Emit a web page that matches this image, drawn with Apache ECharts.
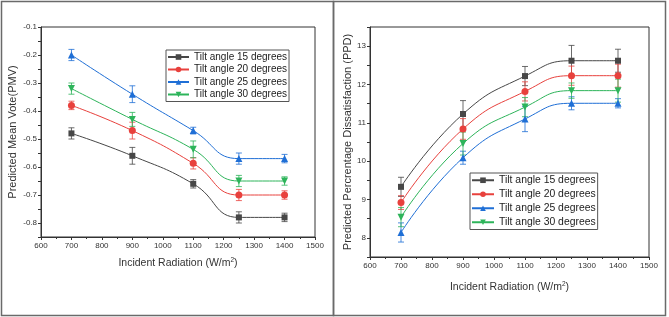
<!DOCTYPE html>
<html>
<head>
<meta charset="utf-8">
<script src="https://cdn.jsdelivr.net/npm/echarts@6/dist/echarts.min.js"></script>
<style>
    html, body {margin: 0; padding: 0; background: #fff;}
    #main {width: 669px; height: 317px;}
</style>
</head>
<body>
<div id="main"></div>
<script>
// radiation levels (x)
var radiation = [700, 900, 1100, 1250, 1400];
var seriesNames = ['Tilt angle 15 degrees', 'Tilt angle 20 degrees', 'Tilt angle 25 degrees', 'Tilt angle 30 degrees'];

// PMV, left chart
var pmv15 = [-0.48, -0.56, -0.66, -0.78, -0.78];
var pmv20 = [-0.38, -0.47, -0.587, -0.70, -0.70];
var pmv25 = [-0.20, -0.34, -0.47, -0.57, -0.57];
var pmv30 = [-0.32, -0.43, -0.537, -0.65, -0.65];
var pmvErr15 = [0.02, 0.03, 0.015, 0.02, 0.015];
var pmvErr20 = [0.015, 0.03, 0.02, 0.02, 0.015];
var pmvErr25 = [0.02, 0.03, 0.012, 0.02, 0.015];
var pmvErr30 = [0.02, 0.025, 0.03, 0.02, 0.015];

// PPD, right chart
var ppd15 = [9.33, 11.23, 12.22, 12.62, 12.62];
var ppd20 = [8.92, 10.84, 11.82, 12.23, 12.23];
var ppd25 = [8.14, 10.09, 11.10, 11.51, 11.51];
var ppd30 = [8.54, 10.46, 11.41, 11.84, 11.84];
var ppdErr15 = [0.25, 0.35, 0.25, 0.4, 0.3];
var ppdErr20 = [0.18, 0.27, 0.25, 0.25, 0.3];
var ppdErr25 = [0.25, 0.17, 0.33, 0.17, 0.12];
var ppdErr30 = [0.25, 0.3, 0.25, 0.2, 0.3];

var colors = ['#474747', '#e8413d', '#1f6fd6', '#2db45a'];
var symbols = ['rect', 'circle', 'triangle', 'path://M0,0 L10,0 L5,9 Z'];
var symbolSizes = [6, 7, 7, 7];
var fontName = '"Liberation Sans", Arial, sans-serif';

function pairs(ys) {
    var out = [];
    for (var i = 0; i < radiation.length; i++) out.push([radiation[i], ys[i]]);
    return out;
}
function errData(ys, es) {
    var out = [];
    for (var i = 0; i < radiation.length; i++) out.push([radiation[i], ys[i] - es[i], ys[i] + es[i]]);
    return out;
}
function errRender(color) {
    return function (params, api) {
        var p1 = api.coord([api.value(0), api.value(1)]);
        var p2 = api.coord([api.value(0), api.value(2)]);
        var w = 3;
        var st = {stroke: color, lineWidth: 1, opacity: 0.8};
        return {
            type: 'group',
            children: [
                {type: 'line', shape: {x1: p1[0], y1: p1[1], x2: p2[0], y2: p2[1]}, style: st},
                {type: 'line', shape: {x1: p1[0] - w, y1: p1[1], x2: p1[0] + w, y2: p1[1]}, style: st},
                {type: 'line', shape: {x1: p2[0] - w, y1: p2[1], x2: p2[0] + w, y2: p2[1]}, style: st}
            ]
        };
    };
}

var pmvSets = [pmv15, pmv20, pmv25, pmv30];
var pmvErrs = [pmvErr15, pmvErr20, pmvErr25, pmvErr30];
var ppdSets = [ppd15, ppd20, ppd25, ppd30];
var ppdErrs = [ppdErr15, ppdErr20, ppdErr25, ppdErr30];

var series = [];
function addSeries(sets, errs, idx) {
    for (var k = 0; k < 4; k++) {
        series.push({
            type: 'custom',
            xAxisIndex: idx, yAxisIndex: idx,
            renderItem: errRender(colors[k]),
            data: errData(sets[k], errs[k]),
            silent: true, z: 1
        });
    }
    for (var k = 0; k < 4; k++) {
        series.push({
            name: seriesNames[k],
            type: 'line',
            xAxisIndex: idx, yAxisIndex: idx,
            smooth: true,
            symbol: symbols[k],
            symbolSize: symbolSizes[k],
            showAllSymbol: true,
            lineStyle: {width: 1, color: colors[k]},
            itemStyle: {color: colors[k]},
            data: pairs(sets[k]),
            z: 3
        });
    }
}
addSeries(pmvSets, pmvErrs, 0);
addSeries(ppdSets, ppdErrs, 1);

var tickStyle = {fontSize: 8, color: '#333', fontFamily: fontName};
function nameStyle(size) {
    return {
        fontSize: size, color: '#333', fontFamily: fontName,
        rich: {sup: {fontSize: 6.5, verticalAlign: 'top', padding: [0, 0, 6, 0], color: '#333', fontFamily: fontName}}
    };
}

function xAxis(idx, gap) {
    return {
        type: 'value', gridIndex: idx,
        min: 600, max: 1500, interval: 100,
        name: 'Incident Radiation (W/m{sup|2})',
        nameLocation: 'middle', nameGap: gap,
        nameTextStyle: nameStyle(10.5),
        axisLine: {lineStyle: {color: '#333', width: 1}},
        axisTick: {length: 3, lineStyle: {color: '#333'}},
        minorTick: {show: true, splitNumber: 2, length: 2, lineStyle: {color: '#333'}},
        axisLabel: Object.assign({
            margin: 5,
            formatter: function (v) { return String(v); }
        }, tickStyle),
        splitLine: {show: false}
    };
}

var option = {
    animation: false,
    backgroundColor: '#fff',
    textStyle: {fontFamily: fontName},
    graphic: [
        {type: 'rect', shape: {x: 1.5, y: 1.5, width: 332, height: 314}, style: {fill: 'none', stroke: '#6a6a6a', lineWidth: 1.5}},
        {type: 'rect', shape: {x: 333.5, y: 1.5, width: 332, height: 314}, style: {fill: 'none', stroke: '#6a6a6a', lineWidth: 1.5}}
    ],
    grid: [
        {left: 41, top: 27, width: 274, height: 210, show: true, borderColor: '#333', borderWidth: 1, backgroundColor: 'transparent'},
        {left: 370, top: 27, width: 279, height: 230, show: true, borderColor: '#333', borderWidth: 1, backgroundColor: 'transparent'}
    ],
    legend: [
        {
            data: seriesNames.map(function (n) { return {name: n}; }),
            orient: 'vertical', left: 166, top: 50,
            itemWidth: 21, itemHeight: 7, itemGap: 0.5,
            padding: [1, 2, 1, 1],
            borderColor: '#555', borderWidth: 1,
            textStyle: {fontSize: 10, color: '#222', fontFamily: fontName, lineHeight: 12},
            selectedMode: false
        },
        {
            data: seriesNames.map(function (n) { return {name: n}; }),
            orient: 'vertical', left: 470, top: 173,
            itemWidth: 22, itemHeight: 7, itemGap: 1.5,
            padding: [1, 2, 1, 1],
            borderColor: '#555', borderWidth: 1,
            textStyle: {fontSize: 10.4, color: '#222', fontFamily: fontName, lineHeight: 12.5},
            selectedMode: false
        }
    ],
    xAxis: [xAxis(0, 20), xAxis(1, 24)],
    yAxis: [
        {
            type: 'value', gridIndex: 0,
            min: -0.85, max: -0.1, interval: 0.05,
            name: 'Predicted Mean Vote(PMV)',
            nameLocation: 'middle', nameGap: 23,
            nameTextStyle: nameStyle(11),
            axisLine: {show: true, lineStyle: {color: '#333', width: 1}},
            axisTick: {show: true, length: 3, lineStyle: {color: '#333'}},
            axisLabel: Object.assign({
                margin: 4,
                formatter: function (v) {
                    var t = v * 10;
                    return Math.abs(t - Math.round(t)) < 1e-6 ? String(Number(v.toFixed(1))) : '';
                }
            }, tickStyle),
            splitLine: {show: false}
        },
        {
            type: 'value', gridIndex: 1,
            min: 7.5, max: 13.5, interval: 0.5,
            name: 'Predicted Percrentage Dissatisfaction (PPD)',
            nameLocation: 'middle', nameGap: 17,
            nameTextStyle: nameStyle(11),
            axisLine: {show: true, lineStyle: {color: '#333', width: 1}},
            axisTick: {show: true, length: 3, lineStyle: {color: '#333'}},
            axisLabel: Object.assign({
                margin: 4,
                formatter: function (v) {
                    return Math.abs(v - Math.round(v)) < 1e-6 ? String(Math.round(v)) : '';
                }
            }, tickStyle),
            splitLine: {show: false}
        }
    ],
    series: series
};

var chart = echarts.init(document.getElementById('main'), null, {renderer: 'canvas'});
chart.setOption(option);
</script>
</body>
</html>
